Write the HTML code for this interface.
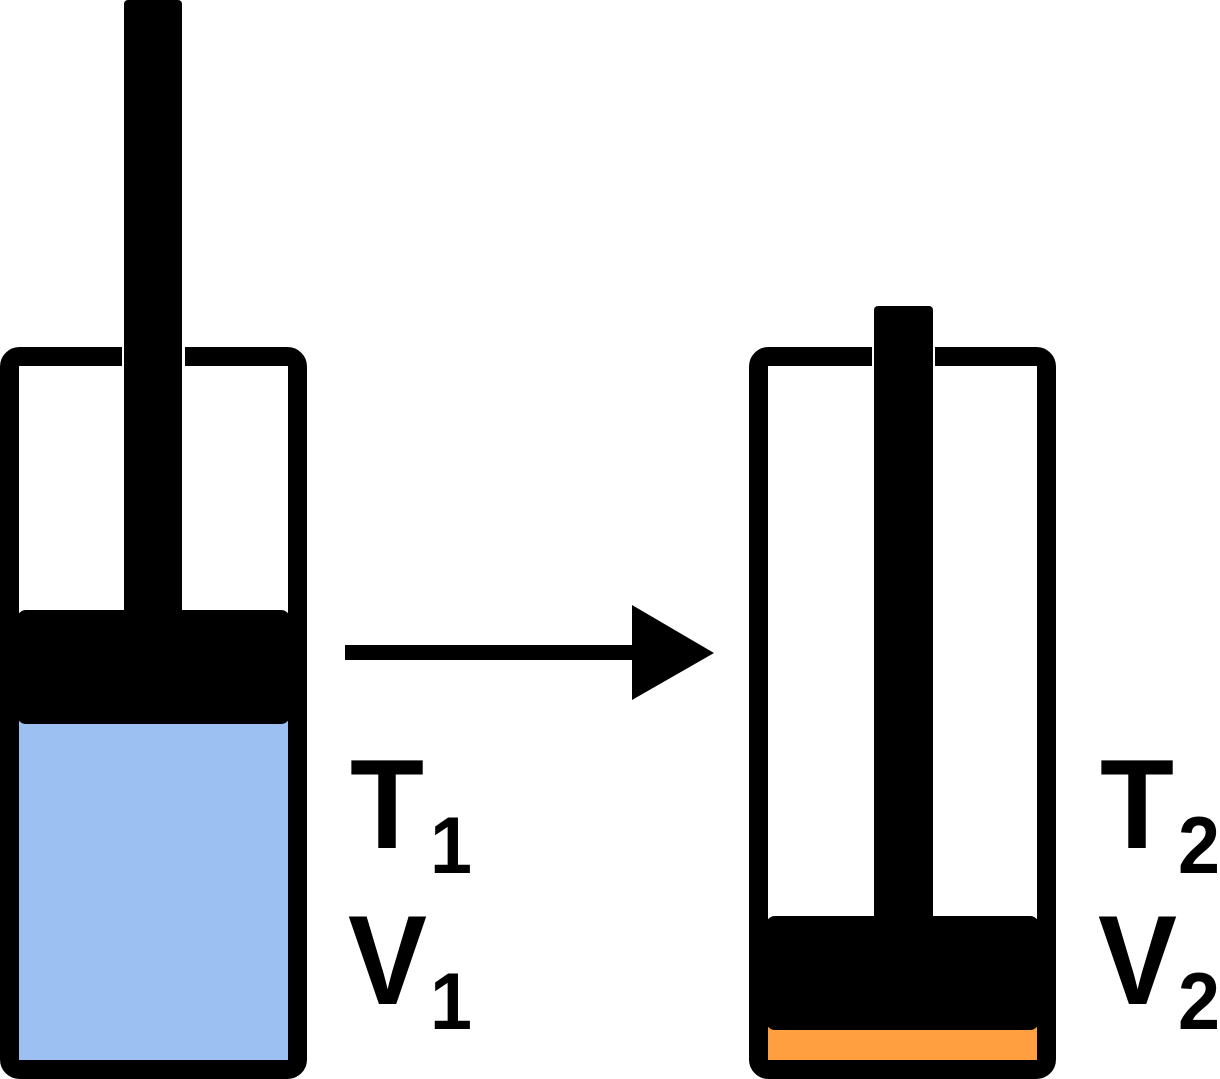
<!DOCTYPE html>
<html><head><meta charset="utf-8"><style>
html,body{margin:0;padding:0;background:#fff;width:1220px;height:1079px;overflow:hidden}
svg{display:block}
text{font-family:"Liberation Sans",sans-serif;font-weight:bold;fill:#000}
</style></head><body>
<svg width="1220" height="1079" viewBox="0 0 1220 1079" xmlns="http://www.w3.org/2000/svg">
<rect x="9.5" y="356.5" width="288" height="713" rx="10" fill="#fff" stroke="#000" stroke-width="19"/>
<rect x="19" y="720" width="269" height="340" fill="#9dc0f2"/>
<rect x="122" y="340" width="63" height="30" fill="#fff"/>
<rect x="124" y="0" width="58" height="620" rx="4" fill="#000"/>
<rect x="17" y="610" width="273" height="114" rx="9" fill="#000"/>
<rect x="345" y="645" width="290" height="15" fill="#000"/>
<polygon points="632,605 714,653 632,700" fill="#000"/>
<rect x="758.5" y="356.5" width="288" height="713" rx="10" fill="#fff" stroke="#000" stroke-width="19"/>
<rect x="768" y="1025" width="269" height="35" fill="#ff9f40"/>
<rect x="872" y="340" width="63" height="30" fill="#fff"/>
<rect x="874" y="306" width="59" height="620" rx="4" fill="#000"/>
<rect x="766" y="916" width="273" height="114" rx="9" fill="#000"/>
<text x="350" y="848" font-size="127" textLength="74" lengthAdjust="spacingAndGlyphs">T</text>
<text x="430" y="873" font-size="81" textLength="42" lengthAdjust="spacingAndGlyphs">1</text>
<text x="348" y="1004" font-size="127" textLength="79" lengthAdjust="spacingAndGlyphs">V</text>
<text x="430" y="1029" font-size="81" textLength="42" lengthAdjust="spacingAndGlyphs">1</text>
<text x="1100" y="848" font-size="127" textLength="74" lengthAdjust="spacingAndGlyphs">T</text>
<text x="1178" y="873" font-size="81" textLength="42" lengthAdjust="spacingAndGlyphs">2</text>
<text x="1098" y="1004" font-size="127" textLength="79" lengthAdjust="spacingAndGlyphs">V</text>
<text x="1178" y="1029" font-size="81" textLength="42" lengthAdjust="spacingAndGlyphs">2</text>
</svg>
</body></html>
